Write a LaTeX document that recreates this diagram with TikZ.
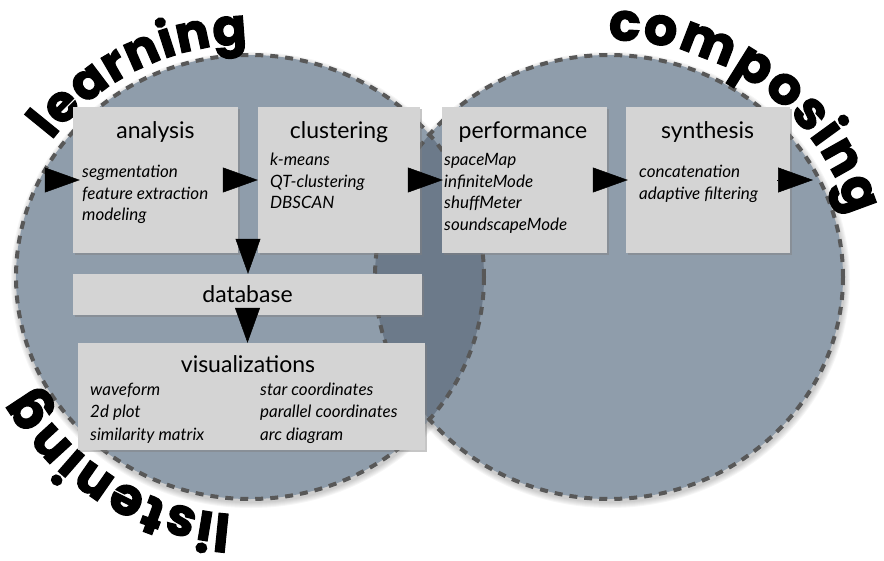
\documentclass[tikz,border=0pt]{standalone}
\usepackage{fontspec}
\setmainfont{Lato}
\newfontfamily\bigfont{Poppins}[BoldFeatures={FakeBold=2.5}]
\usetikzlibrary{shapes.geometric,arrows.meta,shadows,calc,decorations.text}
\definecolor{circfill}{RGB}{143,157,171}
\definecolor{overlapfill}{RGB}{108,122,138}
\definecolor{dashcol}{RGB}{88,88,88}
\definecolor{boxfill}{RGB}{212,212,212}
\newcommand\bigword{\bigfont\bfseries\fontsize{52pt}{52pt}\selectfont}
\newcommand\bigwordL{\bigfont\bfseries\fontsize{50pt}{50pt}\selectfont}
\begin{document}
\begin{tikzpicture}[x=1pt,y=-1pt,
  ringline/.style={draw=dashcol, line width=4pt, dash pattern=on 8pt off 7pt},
  panel/.style={rectangle, fill=boxfill, inner sep=0pt, drop shadow={opacity=0.45, shadow xshift=2pt, shadow yshift=-2pt}},
  ttl/.style={anchor=base, font=\fontsize{23pt}{27pt}\selectfont, inner sep=0pt},
  itm/.style={anchor=base west, font=\fontsize{17pt}{20pt}\selectfont\itshape, inner sep=0pt},
  flow/.style={-{Triangle[length=35pt,width=25pt]}, line width=0.5pt, black}
]
\useasboundingbox (0,0) rectangle (884,560);
\coordinate (Lc) at (250,277);
\coordinate (Rc) at (609,277);

% soft shadows of the circles
\foreach \i in {1,...,6} {
  \fill[black, opacity=0.035] ($(Lc)+(1,3)$) ellipse [x radius=234+\i, y radius=222+\i];
  \fill[black, opacity=0.035] ($(Rc)+(1,3)$) ellipse [x radius=234+\i, y radius=222+\i];
}
\fill[circfill] (Rc) ellipse [x radius=234, y radius=222];
\fill[circfill] (Lc) ellipse [x radius=234, y radius=222];
\begin{scope}
  \clip (Lc) ellipse [x radius=234, y radius=222];
  \fill[overlapfill] (Rc) ellipse [x radius=234, y radius=222];
\end{scope}
\draw[ringline] (Rc) ellipse [x radius=234, y radius=222];
\draw[ringline] (Lc) ellipse [x radius=234, y radius=222];

% curved words
\path[decorate, decoration={text along path, text align=center, raise=11pt, text={|\bigwordL|learning}}]
  ($(Lc)+(-178:234 and 222)$) arc[start angle=-178, end angle=-58, x radius=234, y radius=222];
\path[decorate, decoration={text along path, text align=center, raise=15pt, text={|\bigword|composing}}]
  ($(Rc)+(-112:234 and 222)$) arc[start angle=-112, end angle=8, x radius=234, y radius=222];
\path[decorate, decoration={text along path, text align=center, raise=16pt, text={|\bigword|listening}}]
  ($(Lc)+(-296:234 and 222)$) arc[start angle=-296, end angle=-176, x radius=234, y radius=222];

% boxes
\node[panel, minimum width=165pt, minimum height=146pt] (analysis) at (155.5,180) {};
\node[panel, minimum width=162pt, minimum height=146pt] (clustering) at (339,180) {};
\node[panel, minimum width=165pt, minimum height=146pt] (performance) at (524.5,180) {};
\node[panel, minimum width=164pt, minimum height=146pt] (synthesis) at (708,180) {};
\node[panel, minimum width=349pt, minimum height=41pt] (database) at (247.5,294.5) {};
\node[panel, minimum width=347pt, minimum height=107pt] (visualizations) at (251.5,396.5) {};

% titles
\node[ttl] (tA) at (155.5,138) {analysis};
\node[ttl] (tC) at (339,138) {clustering};
\node[ttl] (tP) at (523,138) {performance};
\node[ttl] (tS) at (707.5,138) {synthesis};
\node[ttl] (tD) at (247.5,302) {database};
\node[ttl] (tV) at (248,372) {visualizations};

% items
\node[itm] (a1) at (82,177) {segmentation};
\node[itm] (a2) at (82,199) {feature extraction};
\node[itm] (a3) at (82,220) {modeling};
\node[itm] (c1) at (270,165) {k-means};
\node[itm] (c2) at (270,187) {QT-clustering};
\node[itm] (c3) at (270,208) {DBSCAN};
\node[itm] (p1) at (444,165) {spaceMap};
\node[itm] (p2) at (444,187) {infiniteMode};
\node[itm] (p3) at (444,208) {shuffMeter};
\node[itm] (p4) at (444,230) {soundscapeMode};
\node[itm] (s1) at (639,177) {concatenation};
\node[itm] (s2) at (639,199) {adaptive filtering};
\node[itm] (v1) at (90,395) {waveform};
\node[itm] (v2) at (90,417) {2d plot};
\node[itm] (v3) at (90,440) {similarity matrix};
\node[itm] (v4) at (260,395) {star coordinates};
\node[itm] (v5) at (260,417) {parallel coordinates};
\node[itm] (v6) at (260,440) {arc diagram};

% arrows
\coordinate (src) at (45,180);
\coordinate (sink) at (813,180);
\coordinate (split) at ($(analysis.south east)!0.5!(clustering.south west)$);
\draw[flow] (src) -- ([xshift=7pt]analysis.west);
\draw[flow] ([xshift=-13pt]analysis.east) -- (clustering.west);
\draw[flow] ([xshift=-12pt]clustering.east) -- ([xshift=1pt]performance.west);
\draw[flow] ([xshift=-14pt]performance.east) -- ([xshift=2pt]synthesis.west);
\draw[flow] ([xshift=-13pt]synthesis.east) -- (sink);
\draw[flow] ([yshift=13pt]split) -- (split |- database.north);
\draw[flow] ([yshift=7pt]database.south) -- (database.south |- visualizations.north);
\end{tikzpicture}
\end{document}
